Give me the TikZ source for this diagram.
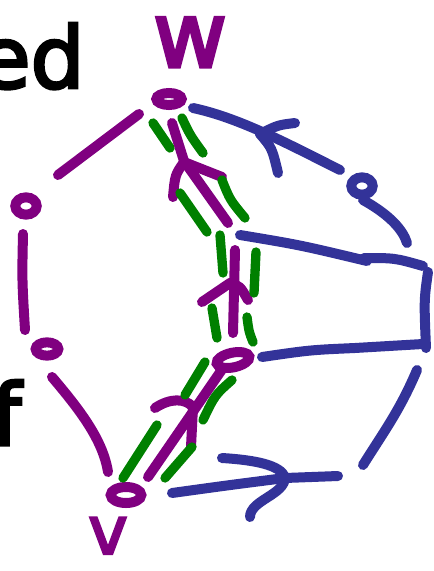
\documentclass[tikz,border=0pt]{standalone}
\usepackage{fontspec}
\setmainfont{DejaVu Sans}
\newfontfamily\handfont{DejaVu Sans}[FakeBold=3.5]
\usetikzlibrary{shapes.geometric}
\definecolor{inkpurple}{HTML}{800080}
\definecolor{inkblue}{HTML}{333399}
\definecolor{inkgreen}{HTML}{008000}

\begin{document}
\begin{tikzpicture}[x=0.75pt,y=-0.75pt,
  pen/.style={line width=7.5pt,line cap=round,line join=round},
  pp/.style={pen,draw=inkpurple},
  bp/.style={pen,draw=inkblue},
  gp/.style={pen,draw=inkgreen,line width=7pt},
  vloop/.style={ellipse,draw,line width=7.5pt,inner sep=0pt},
  word/.style={inner sep=0pt,font=\fontsize{#1}{#1}\selectfont\handfont}]
\useasboundingbox (0,0) rectangle (433,571);

% handwritten words, partly cut off at the left edge
\node[word=64,anchor=base east] (ed) at (85,88) {ed};
\node[word=64,anchor=base west] (f) at (-9,445) {f};
\node[word=68,anchor=base,text=inkpurple] (wlabel) at (190,67) {w};
\node[word=50,anchor=base,text=inkpurple] (vlabel) at (108,554) {v};

% vertices
\node[vloop,draw=inkpurple,minimum width=19pt,minimum height=9pt] (nw) at (169,99) {};
\node[vloop,draw=inkpurple,minimum width=16pt,minimum height=13pt] (na) at (26,206) {};
\node[vloop,draw=inkpurple,minimum width=17pt,minimum height=10pt] (nb) at (47,349) {};
\node[vloop,draw=inkpurple,minimum width=25pt,minimum height=11pt,rotate=12] (nc) at (233,360) {};
\node[vloop,draw=inkpurple,minimum width=23pt,minimum height=12pt] (nv) at (126,495) {};
\node[vloop,draw=inkblue,minimum width=16pt,minimum height=13pt] (nr) at (362,186) {};
\coordinate (m) at (229,228);

% left purple path w - a - b - v
\draw[pp] (139,114) -- (58,175);
\draw[pp] (23,234) .. controls (22,280) .. (25,330);
\draw[pp] (52,377) .. controls (80,410) and (103,440) .. (108,472);

% purple flow arrows v -> c -> m -> w
\draw[pp] (223,368) -- (148,477);
\draw[pp] (155,408) .. controls (170,398) and (185,398) .. (193,407) -- (191,447);
\draw[pp] (235,250) -- (233,333);
\draw[pp] (202,302) -- (230,283) .. controls (240,286) .. (248,300);
\draw[pp] (172,123) -- (184,161) -- (228,223);
\draw[pp] (173,197) .. controls (175,175) .. (184,162) -- (222,177);

% green dashes along the flow path
\draw[gp] (153,123) -- (170,148);
\draw[gp] (182,118) .. controls (190,135) .. (203,153);
\draw[gp] (180,193) -- (207,232);
\draw[gp] (222,180) .. controls (230,200) .. (245,218);
\draw[gp] (220,235) -- (223,273);
\draw[gp] (256,252) -- (254,293);
\draw[gp] (212,308) -- (217,338);
\draw[gp] (247,317) .. controls (249,332) .. (253,342);
\draw[gp] (205,362) -- (185,395);
\draw[gp] (232,380) .. controls (215,395) .. (203,420);
\draw[gp] (157,425) -- (123,478);
\draw[gp] (192,447) -- (165,478);

% blue cut edges
\draw[bp] (193,108) .. controls (240,118) and (290,145) .. (340,170);
\draw[bp] (295,123) .. controls (278,125) .. (260,134) .. controls (272,148) .. (278,173);
\draw[bp] (363,200) .. controls (390,215) and (403,230) .. (407,243);
\draw[bp] (240,235) .. controls (300,245) .. (367,261);
\draw[bp] (364,258) .. controls (395,258) .. (423,266);
\draw[bp] (428,272) .. controls (424,300) .. (426,348);
\draw[bp] (262,357) .. controls (310,350) .. (355,348) -- (423,344);
\draw[bp] (417,370) .. controls (400,410) and (385,430) .. (363,465);
\draw[bp] (172,493) .. controls (230,485) .. (285,478) -- (338,476);
\draw[bp] (222,458) .. controls (255,460) and (280,465) .. (285,477) .. controls (285,495) and (250,500) .. (250,517);
\end{tikzpicture}
\end{document}
